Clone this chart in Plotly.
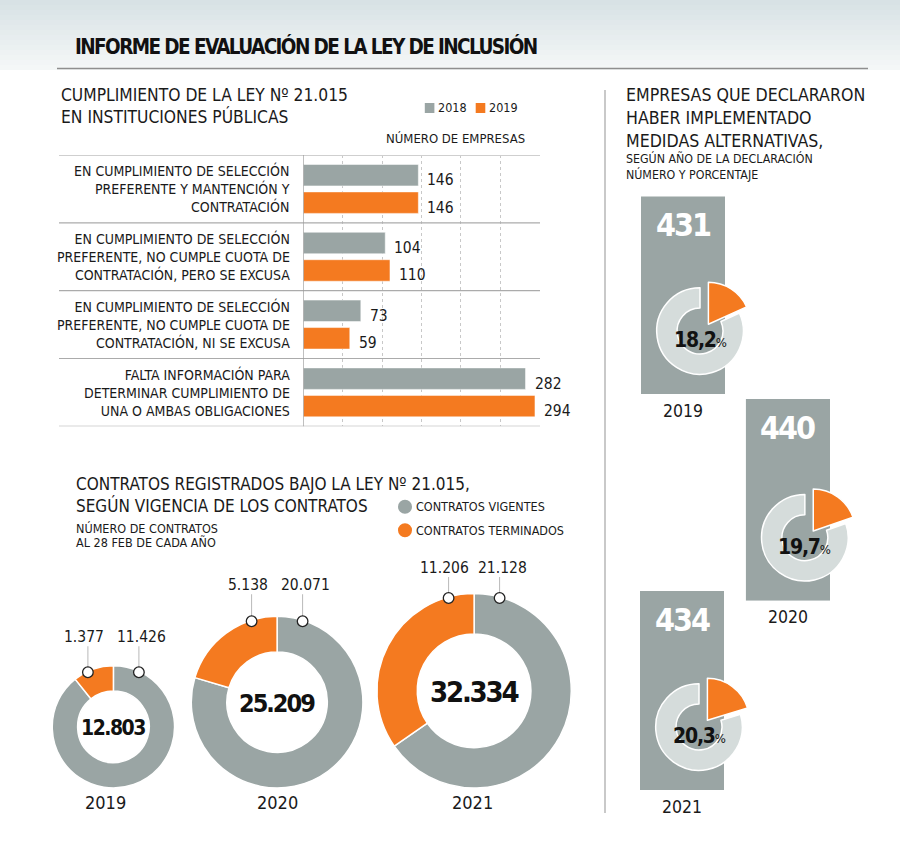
import math
import plotly.graph_objects as go

W, H = 900, 861
def X(px): return px / W
def Y(py): return 1 - py / H

# ---------------- data ----------------
bar_categories = [
    "EN CUMPLIMIENTO DE SELECCIÓN<br>PREFERENTE Y MANTENCIÓN Y<br>CONTRATACIÓN",
    "EN CUMPLIMIENTO DE SELECCIÓN<br>PREFERENTE, NO CUMPLE CUOTA DE<br>CONTRATACIÓN, PERO SE EXCUSA",
    "EN CUMPLIMIENTO DE SELECCIÓN<br>PREFERENTE, NO CUMPLE CUOTA DE<br>CONTRATACIÓN, NI SE EXCUSA",
    "FALTA INFORMACIÓN PARA<br>DETERMINAR CUMPLIMIENTO DE<br>UNA O AMBAS OBLIGACIONES",
]
bar_series = ["2018", "2019"]
values_2018 = [146, 104, 73, 282]
values_2019 = [146, 110, 59, 294]

contract_years = ["2019", "2020", "2021"]
contracts_vigentes = [11426, 20071, 21128]
contracts_terminados = [1377, 5138, 11206]
contracts_total = [12803, 25209, 32334]
contract_legend = ["CONTRATOS VIGENTES", "CONTRATOS TERMINADOS"]

measure_years = ["2019", "2020", "2021"]
measure_companies = [431, 440, 434]
measure_pct = [18.2, 19.7, 20.3]

# ---------------- style ----------------
GRAY = "#9aa5a4"
ORANGE = "#f47a20"
RING = "#d5dcdb"
TXT = "#1a1a1a"
NARROW = "Liberation Sans Narrow, Arial Narrow, DejaVu Sans Condensed, Roboto, sans-serif"

def fmt(v):
    return f"{v:,}".replace(",", ".")

def tight(t, ls):
    return f"<span style='letter-spacing:{ls}px'>{t}</span>"

fig = go.Figure()
shapes, ann = [], []

def text(x, y, t, size, xanchor="left", yanchor="middle", color=TXT, bold=False, align="left", **kw):
    d = dict(x=x, y=y, xref=kw.pop("xref", "paper"), yref=kw.pop("yref", "paper"), text=t,
             showarrow=False, xanchor=xanchor, yanchor=yanchor, align=align,
             font=dict(family=NARROW, size=size, color=color, weight=700 if bold else 400))
    d.update(kw)
    ann.append(d)

# ---------------- header ----------------
top_c, bot_c = (216, 226, 229), (244, 247, 247)
steps = 14
for i in range(steps):
    t = i / (steps - 1)
    c = tuple(round(top_c[k] + (bot_c[k] - top_c[k]) * t) for k in range(3))
    shapes.append(dict(type="rect", xref="paper", yref="paper", x0=0, x1=1,
                       y0=Y(70 * (i + 1) / steps), y1=Y(70 * i / steps),
                       fillcolor=f"rgb{c}", line=dict(width=0), layer="below"))
text(X(73), Y(46), tight("INFORME DE EVALUACIÓN DE LA LEY DE INCLUSIÓN", -1.6), 20.5, bold=True, color="#111")
shapes.append(dict(type="line", xref="paper", yref="paper", x0=X(57), x1=X(868), y0=Y(68.5), y1=Y(68.5),
                   line=dict(color="#8f8f8f", width=1.5)))

# ---------------- bar chart ----------------
rows = list(range(len(bar_categories)))
for name, vals, col in [(bar_series[0], values_2018, GRAY), (bar_series[1], values_2019, ORANGE)]:
    fig.add_trace(go.Bar(x=vals, y=rows, orientation="h", name=name,
                         marker=dict(color=col, line=dict(color="rgba(255,255,255,0.5)", width=1)),
                         showlegend=False, hoverinfo="skip", xaxis="x", yaxis="y"))

text(X(59), Y(106.5), "CUMPLIMIENTO DE LA LEY Nº 21.015<br>EN INSTITUCIONES PÚBLICAS", 17.3)
for sx, lab, col in [(424.8, bar_series[0], GRAY), (475.7, bar_series[1], ORANGE)]:
    shapes.append(dict(type="rect", xref="paper", yref="paper", x0=X(sx), x1=X(sx + 9.6), y0=Y(113), y1=Y(103),
                       fillcolor=col, line=dict(width=0)))
    text(X(sx + 11.5), Y(108), lab, 12.5)
text(X(526.5), Y(138.5), "NÚMERO DE EMPRESAS", 13, xanchor="right")

for k in range(len(rows) + 1):
    yv = k - 0.5
    shapes.append(dict(type="line", xref="paper", yref="y", x0=X(59), x1=X(540), y0=yv, y1=yv,
                       line=dict(color="#cfcfcf" if k == 0 else "#ababab", width=2 if k == 0 else 1.2)))
shapes.append(dict(type="line", xref="x", yref="paper", x0=0, x1=0, y0=Y(426.3), y1=Y(155),
                   line=dict(color="#9a9a9a", width=1.2)))

off = 0.2028
for i in rows:
    text(X(292), i, bar_categories[i], 14, xanchor="right", align="right", yref="y")
    text(values_2018[i], i - off, str(values_2018[i]), 15.5, xref="x", yref="y", xshift=7, yshift=-5)
    text(values_2019[i], i + off, str(values_2019[i]), 15.5, xref="x", yref="y", xshift=7, yshift=-5)

# ---------------- contracts donuts ----------------
text(X(74), Y(494.5), "CONTRATOS REGISTRADOS BAJO LA LEY Nº 21.015,<br>SEGÚN VIGENCIA DE LOS CONTRATOS", 17)
text(X(74), Y(528.3), "NÚMERO DE CONTRATOS", 12.5)
text(X(74), Y(542.5), "AL 28 FEB DE CADA AÑO", 12.5)
for cy, lab, col in [(506.7, contract_legend[0], GRAY), (530.2, contract_legend[1], ORANGE)]:
    shapes.append(dict(type="circle", xref="paper", yref="paper", x0=X(398), x1=X(412), y0=Y(cy + 7), y1=Y(cy - 7),
                       fillcolor=col, line=dict(width=0)))
    text(X(414), Y(cy), lab, 12.5)

donut_cx = [113.4, 277.1, 474.1]
donut_bottom = 788
k_r = 0.5405
center_sizes = [21, 25, 29]
center_ls = [-1.5, -2, -2.2]
label_gap = [35, 36, 30]
year_shift = [-8, 0, -2]
for j, yr in enumerate(contract_years):
    r = k_r * math.sqrt(contracts_total[j])
    cx, cy = donut_cx[j], donut_bottom - r
    fig.add_trace(go.Pie(values=[contracts_vigentes[j], contracts_terminados[j]], labels=contract_legend,
                         marker=dict(colors=[GRAY, ORANGE], line=dict(color="white", width=1.5)),
                         hole=0.585, sort=False, direction="clockwise", rotation=0, textinfo="none",
                         hoverinfo="skip", showlegend=False,
                         domain=dict(x=[X(cx - r), X(cx + r)], y=[Y(cy + r), Y(cy - r)])))
    text(X(cx), Y(cy + 1), "<b>" + tight(fmt(contracts_total[j]), center_ls[j]) + "</b>", center_sizes[j],
         xanchor="center", color="#111")
    text(X(cx + year_shift[j]), Y(802), yr, 18, xanchor="center")
    for dx, v, xs in [(-25.5, contracts_terminados[j], -4), (25.5, contracts_vigentes[j], 3)]:
        my = cy - math.sqrt(r * r - dx * dx) + 1
        ly = my - label_gap[j]
        shapes.append(dict(type="line", xref="paper", yref="paper", x0=X(cx + dx), x1=X(cx + dx),
                           y0=Y(my - 5), y1=Y(ly + 9), line=dict(color="#b9b9b9", width=1)))
        shapes.append(dict(type="circle", xref="paper", yref="paper", x0=X(cx + dx - 5.3), x1=X(cx + dx + 5.3),
                           y0=Y(my + 5.3), y1=Y(my - 5.3), fillcolor="white", line=dict(color="#222", width=1.3)))
        text(X(cx + dx), Y(ly), fmt(v), 15.5, xanchor="center", xshift=xs)

# ---------------- right panel ----------------
shapes.append(dict(type="line", xref="paper", yref="paper", x0=X(605), x1=X(605), y0=Y(813), y1=Y(90),
                   line=dict(color="#c9c9c9", width=2)))
text(X(624), Y(118.5), "EMPRESAS QUE DECLARARON<br>HABER IMPLEMENTADO<br>MEDIDAS ALTERNATIVAS,", 17.6)
text(X(624), Y(167), "SEGÚN AÑO DE LA DECLARACIÓN<br>NÚMERO Y PORCENTAJE", 12.3)

box_x = [(641, 725), (745.7, 830), (640, 724)]
box_bottom = [394, 600.7, 790]
px_per_unit = 0.4585
axis_px = 240
layout_axes = {}
for j, yr in enumerate(measure_years):
    xa, ya = f"x{j + 2}", f"y{j + 2}"
    x0, x1 = box_x[j]
    b = box_bottom[j]
    fig.add_trace(go.Bar(x=[0], y=[measure_companies[j]], width=1, marker=dict(color=GRAY, line=dict(width=0)),
                         xaxis=xa, yaxis=ya, showlegend=False, hoverinfo="skip"))
    layout_axes[f"xaxis{j + 2}"] = dict(domain=[X(x0), X(x1)], range=[-0.5, 0.5], visible=False, anchor=ya)
    layout_axes[f"yaxis{j + 2}"] = dict(domain=[Y(b), Y(b - axis_px)], range=[0, axis_px / px_per_unit],
                                        visible=False, anchor=xa)
    text(0, measure_companies[j], "<b>" + tight(str(measure_companies[j]), -2) + "</b>", 32,
         xanchor="center", yanchor="top", color="white", xref=xa, yref=ya, yshift=-8)
    bcx = (x0 + x1) / 2
    cx, cy, r = bcx + 17, b - 63, 43.3
    p = measure_pct[j]
    fig.add_trace(go.Pie(values=[p, 100 - p], labels=["a", "b"], sort=False, direction="clockwise", rotation=0,
                         hole=0.53, textinfo="none", hoverinfo="skip", showlegend=False,
                         marker=dict(colors=["rgba(0,0,0,0)", RING],
                                     line=dict(color=["rgba(0,0,0,0)", "white"], width=1.5)),
                         domain=dict(x=[X(cx - r), X(cx + r)], y=[Y(cy + r), Y(cy - r)])))
    ox, oy, r2 = cx + 8.4, cy - 6.7, 42
    fig.add_trace(go.Pie(values=[p, 100 - p], labels=["a", "b"], sort=False, direction="clockwise", rotation=0,
                         hole=0, textinfo="none", hoverinfo="skip", showlegend=False,
                         marker=dict(colors=[ORANGE, "rgba(0,0,0,0)"],
                                     line=dict(color=["white", "rgba(0,0,0,0)"], width=1.5)),
                         domain=dict(x=[X(ox - r2), X(ox + r2)], y=[Y(oy + r2), Y(oy - r2)])))
    pct_txt = f"{p:.1f}".replace(".", ",")
    text(X(cx), Y(cy + 9), "<b>" + tight(pct_txt, -1.2) + "</b><span style='font-size:13px'>%</span>", 21,
         xanchor="center", color="#111")
    text(X(bcx), Y(b + 16.5), yr, 17.5, xanchor="center")

fig.update_layout(
    width=W, height=H, margin=dict(l=0, r=0, t=0, b=0),
    paper_bgcolor="white", plot_bgcolor="rgba(0,0,0,0)",
    barmode="group", bargap=0.19, bargroupgap=0.218,
    xaxis=dict(domain=[X(303.3), X(539.7)], range=[0, 300], dtick=50, tick0=0, showgrid=True,
               gridcolor="#c8c8c8", griddash="dot", gridwidth=1, showticklabels=False, zeroline=False,
               showline=False, fixedrange=True, anchor="y"),
    yaxis=dict(domain=[Y(426.3), Y(155)], range=[3.5, -0.5], showgrid=False, showticklabels=False,
               zeroline=False, showline=False, fixedrange=True, anchor="x"),
    shapes=shapes, annotations=ann, showlegend=False,
    **layout_axes,
)

fig.write_html("out.html")
